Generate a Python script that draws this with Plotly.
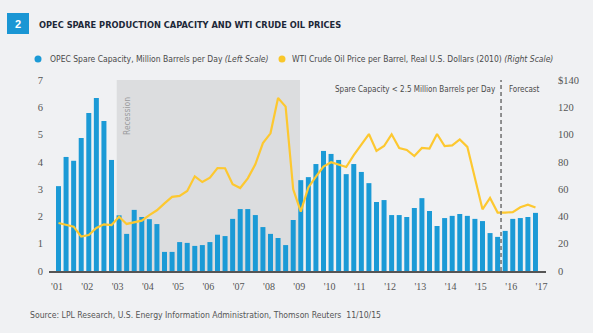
import plotly.graph_objects as go

# Quarterly data, 2001 Q1 - 2016 Q4 (Q4 2015 onward = forecast)
quarter_index = list(range(64))
spare_capacity = [
    3.11, 4.18, 4.04, 4.87, 5.79, 6.34, 5.50, 4.07,
    2.04, 1.36, 2.24, 1.98, 1.90, 1.72, 0.70, 0.70,
    1.06, 1.03, 0.92, 0.95, 1.06, 1.33, 1.28, 1.91,
    2.27, 2.27, 2.05, 1.61, 1.36, 1.21, 0.95, 1.87,
    3.33, 3.44, 3.92, 4.40, 4.29, 4.07, 3.55, 3.92,
    3.63, 3.22, 2.53, 2.60, 2.05, 2.05, 1.98, 2.31,
    2.67, 2.20, 1.65, 1.94, 2.02, 2.09, 2.02, 1.91,
    1.83, 1.39, 1.25, 1.47, 1.91, 1.94, 1.98, 2.13,
]
wti_price = [
    35.2, 33.7, 32.5, 25.2, 26.4, 31.5, 34.2, 33.7,
    39.8, 34.5, 35.7, 36.9, 41.0, 44.5, 49.6, 54.3,
    55.0, 58.7, 69.4, 65.2, 68.4, 75.5, 75.3, 63.6,
    60.8, 67.9, 78.2, 93.8, 100.9, 126.8, 120.5, 59.9,
    43.5, 61.3, 69.2, 76.6, 79.7, 78.2, 76.2, 85.0,
    93.1, 100.4, 88.0, 91.6, 100.2, 90.2, 88.7, 84.3,
    90.2, 89.7, 100.4, 91.6, 92.1, 96.5, 91.0, 67.0,
    45.2, 53.5, 42.8, 42.8, 43.2, 46.7, 48.6, 46.5,
]
year_labels = ["'01", "'02", "'03", "'04", "'05", "'06", "'07", "'08", "'09",
               "'10", "'11", "'12", "'13", "'14", "'15", "'16", "'17"]
left_ticks = [0, 1, 2, 3, 4, 5, 6, 7]
right_ticks = [0, 20, 40, 60, 80, 100, 120, 140]
right_labels = ["0", "20", "40", "60", "80", "100", "120", "$140"]
recession_span = [7.69, 31.9]
forecast_start = 58.45

W, H = 593, 333
L, R, T, B = 49, 546, 80, 271
BLUE = "#1b9ad6"
YELLOW = "#fdc830"
BG = "#f0f1f3"
TXT = "#4a4a4a"
NARROW = "DejaVu Sans Condensed, sans-serif"
SERIF = "Liberation Serif, serif"


def px(x):
    return (x - L) / (R - L)


def py(y):
    return (B - y) / (B - T)


fig = go.Figure()
fig.add_trace(go.Bar(x=quarter_index, y=spare_capacity, marker_color=BLUE,
                     marker_line_width=0, yaxis="y", name="OPEC"))
fig.add_trace(go.Scatter(x=quarter_index, y=wti_price, mode="lines",
                         line=dict(color=YELLOW, width=2.2), yaxis="y2", name="WTI"))

shapes = [
    dict(type="rect", xref="x", yref="paper", x0=recession_span[0], x1=recession_span[1],
         y0=0, y1=1, fillcolor="#dcdddf", line_width=0, layer="below"),
    dict(type="line", xref="x", yref="paper", x0=forecast_start, x1=forecast_start,
         y0=0, y1=1, line=dict(color="#666666", width=1.4, dash="4px,3px")),
    # title box
    dict(type="rect", xref="paper", yref="paper", x0=px(7), x1=px(29), y0=py(34), y1=py(13),
         fillcolor="#1a96d4", line_width=0),
    # legend dots
    dict(type="circle", xref="paper", yref="paper", xsizemode="pixel", ysizemode="pixel",
         xanchor=px(38), yanchor=py(59), x0=-3.5, x1=3.5, y0=-3.5, y1=3.5,
         fillcolor=BLUE, line_width=0),
    dict(type="circle", xref="paper", yref="paper", xsizemode="pixel", ysizemode="pixel",
         xanchor=px(282), yanchor=py(59), x0=-3.5, x1=3.5, y0=-3.5, y1=3.5,
         fillcolor="#f9c72a", line_width=0),
]

annotations = [
    dict(text="<b>2</b>", xref="paper", yref="paper", x=px(18), y=py(24), showarrow=False,
         font=dict(family="Liberation Sans, Arial, sans-serif", size=11, color="white"),
         xanchor="center", yanchor="middle"),
    dict(text="<b>OPEC SPARE PRODUCTION CAPACITY AND WTI CRUDE OIL PRICES</b>",
         xref="paper", yref="paper", x=px(37), y=py(24.5), showarrow=False,
         font=dict(family=NARROW, size=9.2, color="#1c2838"), xanchor="left", yanchor="middle"),
    dict(text="OPEC Spare Capacity, Million Barrels per Day <i>(Left Scale)</i>",
         xref="paper", yref="paper", x=px(48), y=py(59), showarrow=False,
         font=dict(family=NARROW, size=8.5, color=TXT), xanchor="left", yanchor="middle"),
    dict(text="WTI Crude Oil Price per Barrel, Real U.S. Dollars (2010) <i>(Right Scale)</i>",
         xref="paper", yref="paper", x=px(290), y=py(59), showarrow=False,
         font=dict(family=NARROW, size=8.5, color=TXT), xanchor="left", yanchor="middle"),
    dict(text="Recession", xref="x", yref="paper", x=9.05, y=py(116), showarrow=False,
         textangle=-90, font=dict(family=NARROW, size=8.5, color="#9a9b9d"),
         xanchor="center", yanchor="middle"),
    dict(text="Spare Capacity < 2.5 Million Barrels per Day", xref="x", yref="paper",
         x=forecast_start - 0.45, y=py(89), showarrow=False,
         font=dict(family=NARROW, size=8.0, color=TXT), xanchor="right", yanchor="middle"),
    dict(text="Forecast", xref="x", yref="paper", x=forecast_start + 0.75, y=py(89),
         showarrow=False, font=dict(family=NARROW, size=8.0, color=TXT),
         xanchor="left", yanchor="middle"),
    dict(text="Source: LPL Research, U.S. Energy Information Administration, Thomson Reuters  11/10/15",
         xref="paper", yref="paper", x=px(28), y=py(315), showarrow=False,
         font=dict(family=NARROW, size=8.6, color="#555555"), xanchor="left", yanchor="middle"),
]

fig.update_layout(
    width=W, height=H,
    margin=dict(l=L, r=W - R, t=T, b=H - B, pad=0),
    paper_bgcolor=BG, plot_bgcolor=BG,
    showlegend=False, bargap=0.34,
    shapes=shapes, annotations=annotations,
    xaxis=dict(range=[-1.255, 64.39], tickvals=[4 * k - 0.2 for k in range(len(year_labels))],
               ticktext=year_labels, showgrid=False, zeroline=False, showline=True,
               linecolor="#555555", linewidth=1.5, ticks="", ticklabelstandoff=5,
               tickfont=dict(family=SERIF, size=10, color="#555555")),
    yaxis=dict(range=[0, 7], tickvals=left_ticks, showgrid=False, zeroline=False,
               showline=False, ticks="", ticklabelstandoff=5,
               tickfont=dict(family=SERIF, size=10.5, color="#555555")),
    yaxis2=dict(range=[0, 140], tickvals=right_ticks, ticktext=right_labels, overlaying="y",
                side="right", showgrid=False, zeroline=False, showline=False, ticks="",
                ticklabelstandoff=11, tickfont=dict(family=SERIF, size=10.5, color="#555555")),
)

fig.write_html("out.html")
